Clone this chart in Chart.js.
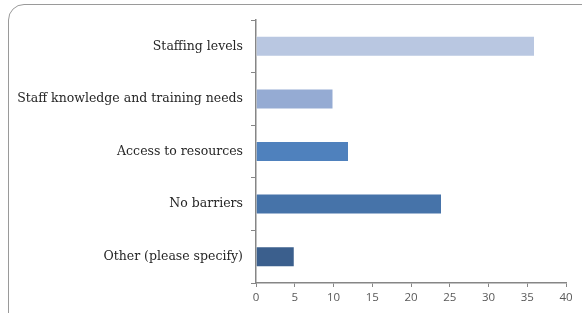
<!DOCTYPE html>
<html>
<head>
<meta charset="utf-8">
<script src="https://cdn.jsdelivr.net/npm/chart.js@4"></script>
<style>
    html, body { margin: 0; padding: 0; background: #fff; overflow: hidden; }
    #wrap { position: relative; width: 582px; height: 313px; }
    #frame {
        position: absolute; left: 8px; top: 4px; width: 600px; height: 330px;
        border: 1.5px solid #9a9a9a; border-radius: 16px; box-sizing: border-box;
    }
    #myChart { position: absolute; left: 0; top: 0; }
</style>
</head>
<body>
<div id="wrap">
    <div id="frame"></div>
    <canvas id="myChart" width="582" height="313"></canvas>
</div>
<script>
var categories = ['Staffing levels', 'Staff knowledge and training needs', 'Access to resources', 'No barriers', 'Other (please specify)'];
var values = [36, 10, 12, 24, 5];
var barColors = ['#b9c7e1', '#95abd3', '#4f81bd', '#4673a9', '#3b5f8d'];
var xTicks = [0, 5, 10, 15, 20, 25, 30, 35, 40];

document.addEventListener("DOMContentLoaded", function() {
    var ctx = document.getElementById('myChart').getContext('2d');
    var myChart = new Chart(ctx, {
        type: 'bar',
        data: {
            labels: categories,
            datasets: [{
                data: values,
                backgroundColor: barColors,
                borderColor: 'rgba(255,255,255,0.7)',
                borderWidth: 1,
                barPercentage: 0.4,
                categoryPercentage: 1
            }]
        },
        options: {
            indexAxis: 'y',
            responsive: false,
            animation: false,
            layout: { padding: { top: 20, right: 16, left: 0, bottom: 0 } },
            plugins: { legend: { display: false }, tooltip: { enabled: false } },
            scales: {
                x: {
                    min: 0, max: 40,
                    afterBuildTicks: function(scale) {
                        scale.ticks = xTicks.map(function(v) { return { value: v }; });
                    },
                    afterFit: function(scale) { scale.height = 30; },
                    grid: { drawOnChartArea: false, tickLength: 4, color: '#868686', lineWidth: 1 },
                    border: { color: '#868686', width: 1.5 },
                    ticks: { color: '#595959', padding: 4, font: { family: 'Open Sans', size: 11.5 } }
                },
                y: {
                    afterFit: function(scale) { scale.width = 256; },
                    grid: { drawOnChartArea: false, tickLength: 5, color: '#868686', lineWidth: 1 },
                    border: { color: '#868686', width: 1.5 },
                    ticks: { color: '#262626', padding: 8, font: { family: 'DejaVu Serif', size: 12.5 } }
                }
            }
        }
    });
});
</script>
</body>
</html>
